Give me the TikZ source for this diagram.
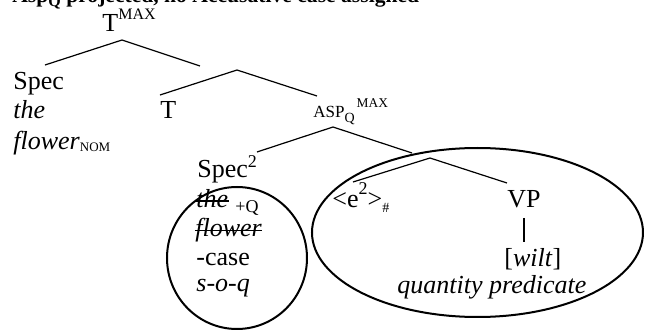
\documentclass[tikz,border=0pt]{standalone}
\usepackage{fontspec}
\setmainfont{Liberation Serif}
\usetikzlibrary{positioning}
\newcommand{\shiftsz}[3]{\raisebox{#1}{\fontsize{#2}{#2}\selectfont #3}}

\begin{document}
\begin{tikzpicture}[
  x=0.5pt, y=-0.5pt,
  word/.style={inner sep=0pt, anchor=base west, font=\fontsize{13}{15}\selectfont},
  branch/.style={line width=0.6pt},
  strike/.style={line width=0.8pt},
  scopering/.style={line width=1pt}
]
\clip (0,0) rectangle (645,332);

% Heading (cut off at the top)
\node[word, font=\fontsize{10.8}{12}\selectfont\bfseries] (title) at (12,2.5)
  {Asp\shiftsz{-2pt}{8}{Q} projected, no Accusative case assigned};

% Labels
\node[word] (tmax) at (102,32) {T\shiftsz{6pt}{8}{MAX}};
\node[word] (spec1) at (13,90) {Spec};
\node[word] (the1) at (13,119) {\textit{the}};
\node[word] (flower1) at (13,149) {\textit{flower}\shiftsz{-1.5pt}{6.5}{NOM}};
\node[word] (t) at (160,119) {T};
\node[word] (asp) at (313,118)
  {\fontsize{8.5}{9}\selectfont ASP\shiftsz{-2.5pt}{7}{Q}\hspace{1pt}\shiftsz{5.5pt}{6.7}{MAX}};
\node[word] (spec2) at (197,177) {Spec\shiftsz{5pt}{9}{2}};
\node[word] (the2) at (196,207) {\textit{the}};
\node[word, font=\fontsize{9}{10}\selectfont] (plusq) at (235,213) {+Q};
\node[word] (flower2) at (195,237) {\textit{flower}};
\node[word] (case) at (196,265) {-case};
\node[word] (soq) at (196,292) {\textit{s-o-q}};
\node[word] (e2) at (332,208) {<e\shiftsz{6.5pt}{9}{2}>\shiftsz{-2pt}{7}{\#}};
\node[word] (vp) at (507,208) {VP};
\node[word] (wilt) at (504,267) {[\textit{wilt}]};
\node[word] (qpred) at (397,293) {\textit{quantity predicate}};

% Struck-out copy
\draw[strike] ([yshift=3pt]the2.base west) -- ([yshift=3pt]the2.base east);
\draw[strike] ([yshift=3.3pt]flower2.base west) -- ([yshift=3.3pt]flower2.base east);

% Branching points
\coordinate (b1) at (122,40);
\coordinate (b1l) at (45,65);
\coordinate (b1r) at (200,66);
\coordinate (b2) at (237,70);
\coordinate (b2l) at (160,95);
\coordinate (b2r) at (317,96);
\coordinate (b3) at (333,127);
\coordinate (b3l) at (257,152);
\coordinate (b3r) at (412,153);
\coordinate (b4) at (430,158);
\coordinate (b4l) at (353,182);
\coordinate (b4r) at (507,183);

\draw[branch] (b1l) -- (b1) -- (b1r);
\draw[branch] (b2l) -- (b2) -- (b2r);
\draw[branch] (b3l) -- (b3) -- (b3r);
\draw[branch] (b4l) -- (b4) -- (b4r);
\draw[branch, shorten <=4.5pt, shorten >=3.5pt] (vp.south) -- (vp.south |- wilt.north);

% Scope rings
\draw[scopering] (237,258) ellipse [x radius=70, y radius=71];
\draw[scopering] (477.5,232.5) ellipse [x radius=165.5, y radius=84.5];

\end{tikzpicture}
\end{document}
